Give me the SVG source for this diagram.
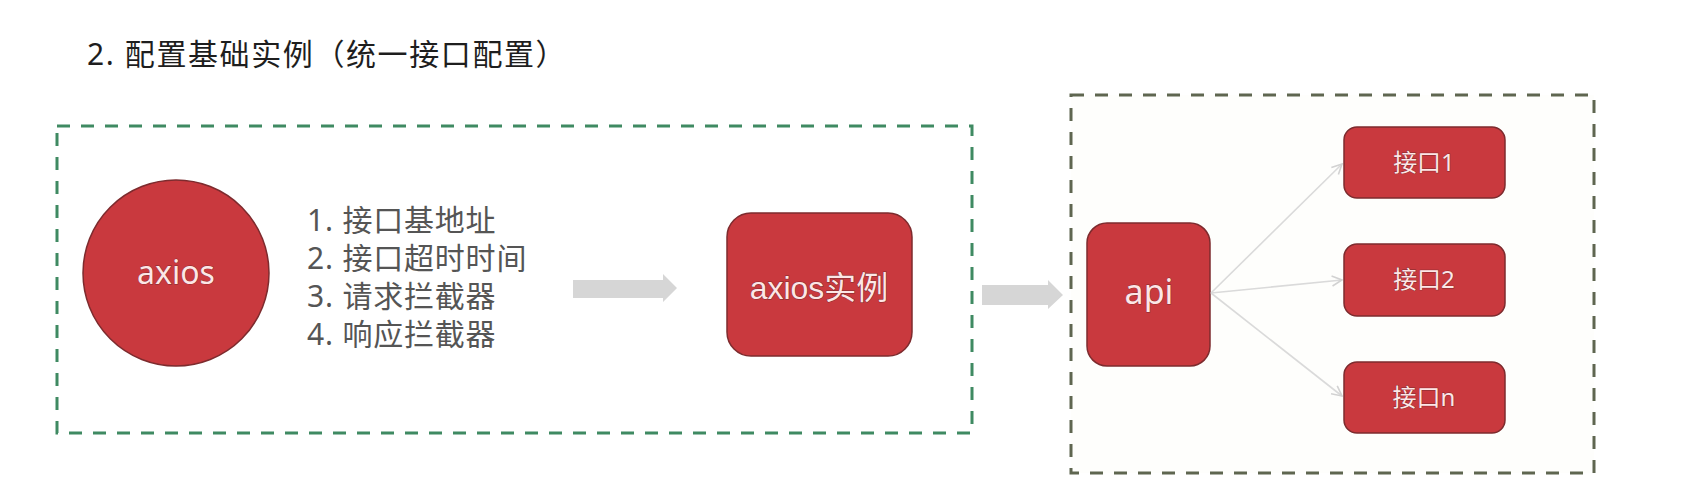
<svg xmlns="http://www.w3.org/2000/svg" width="1682" height="501" viewBox="0 0 1682 501">
  <defs>
    <style>
      .title { font-family: "Noto Sans", "Noto Sans CJK SC", sans-serif; font-size: 30px; fill: #1e1e1e; letter-spacing: 1.6px; }
      .list { font-family: "Noto Sans", "Noto Sans CJK SC", sans-serif; font-size: 30px; fill: #555555; letter-spacing: 0.8px; }
      .node { fill: #c9393e; stroke: #7d2b2e; stroke-width: 1.5; }
      .label { font-family: "Noto Sans", "Noto Sans CJK SC", sans-serif; fill: #fde6e6; text-anchor: middle; stroke: #7d2b2e; stroke-width: 0.8; paint-order: stroke; }
      .label2 { font-family: "Liberation Sans", "Noto Sans CJK SC", sans-serif; fill: #fde6e6; text-anchor: middle; stroke: #7d2b2e; stroke-width: 1; paint-order: stroke; }
      .groupA { fill: none; stroke: #3f8a62; stroke-width: 3; stroke-dasharray: 13 11; }
      .groupB { fill: #fefefc; stroke: #5f6650; stroke-width: 3; stroke-dasharray: 13 11; }
      .bigarrow { fill: #d6d6d6; }
      .link { fill: none; stroke: #dadada; stroke-width: 1.6; marker-end: url(#chev); }
    </style>
    <marker id="chev" viewBox="0 0 12 12" refX="11" refY="6" markerWidth="12" markerHeight="12" markerUnits="userSpaceOnUse" orient="auto">
      <path d="M1,1 L11,6 L1,11" fill="none" stroke="#d2d2d2" stroke-width="1.6"/>
    </marker>
  </defs>

  <rect width="1682" height="501" fill="#ffffff"/>

  <g id="title">
    <text class="title" x="87" y="65">2. 配置基础实例（统一接口配置）</text>
  </g>

  <g id="group-config">
    <rect class="groupA" x="57" y="126" width="915" height="307"/>
  </g>

  <g id="group-api">
    <rect class="groupB" x="1071" y="95" width="523" height="378"/>
  </g>

  <g id="node-axios">
    <circle class="node" cx="176" cy="273" r="93"/>
    <text class="label" x="176" y="284" font-size="32">axios</text>
  </g>

  <g id="config-list">
    <text class="list" x="307" y="231">1. 接口基地址</text>
    <text class="list" x="307" y="269">2. 接口超时时间</text>
    <text class="list" x="307" y="307">3. 请求拦截器</text>
    <text class="list" x="307" y="345">4. 响应拦截器</text>
  </g>

  <g id="node-instance">
    <rect class="node" x="727" y="213" width="185" height="143" rx="24" ry="24"/>
    <text class="label2" x="819" y="299" font-size="32">axios实例</text>
  </g>

  <g id="node-api">
    <rect class="node" x="1087" y="223" width="123" height="143" rx="20" ry="20"/>
    <text class="label" x="1149" y="304" font-size="34">api</text>
  </g>

  <g id="node-if1">
    <rect class="node" x="1344" y="127" width="161" height="71" rx="13" ry="13"/>
    <text class="label" x="1424" y="171" font-size="24">接口1</text>
  </g>

  <g id="node-if2">
    <rect class="node" x="1344" y="244" width="161" height="72" rx="13" ry="13"/>
    <text class="label" x="1424" y="288" font-size="24">接口2</text>
  </g>

  <g id="node-ifn">
    <rect class="node" x="1344" y="362" width="161" height="71" rx="13" ry="13"/>
    <text class="label" x="1424" y="406" font-size="24">接口n</text>
  </g>

  <g id="connectors">
    <polygon class="bigarrow" points="573,280 663,280 663,274 677,288 663,302 663,298 573,298"/>
    <polygon class="bigarrow" points="982,285 1048,285 1048,280 1063,295 1048,309 1048,305 982,305"/>
    <line class="link" x1="1211" y1="293" x2="1342" y2="164"/>
    <line class="link" x1="1211" y1="293" x2="1342" y2="280"/>
    <line class="link" x1="1211" y1="293" x2="1342" y2="396"/>
  </g>
</svg>
